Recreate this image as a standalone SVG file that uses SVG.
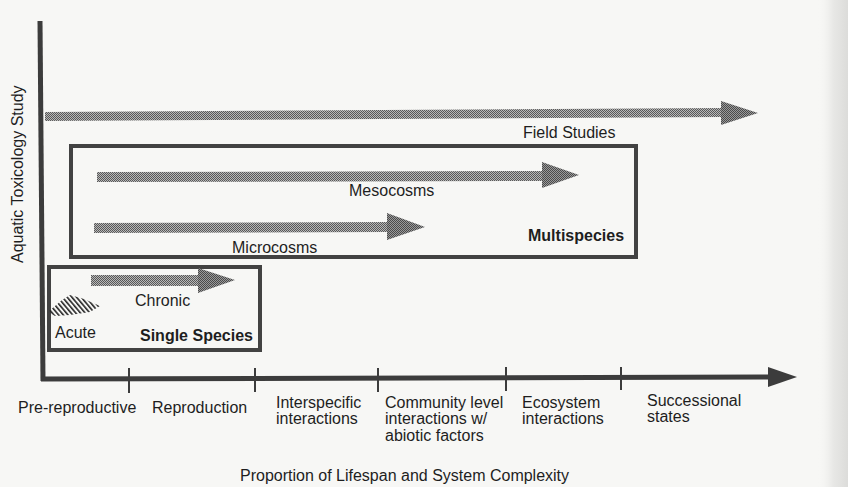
<svg xmlns="http://www.w3.org/2000/svg" width="848" height="487" viewBox="0 0 848 487">
<style>
  text { font-family: "Liberation Sans", Arial, Helvetica, sans-serif; font-size: 16px; fill: #1e1e1e; }
  .b { font-weight: bold; }
  .axis { stroke: #3c3c3c; stroke-width: 5; fill: none; }
  .tick { stroke: #3c3c3c; stroke-width: 2; }
  .box { stroke: #424242; stroke-width: 4; fill: none; }
  .bar { fill: url(#dither); }
  .head { fill: url(#ditherDark); }
</style>
<defs>
  <pattern id="dither" width="2" height="2" patternUnits="userSpaceOnUse">
    <rect width="2" height="2" fill="#b8b8b8"/>
    <rect width="1" height="1" fill="#585858"/>
    <rect x="1" y="1" width="1" height="1" fill="#585858"/>
  </pattern>
  <pattern id="ditherDark" width="2" height="2" patternUnits="userSpaceOnUse">
    <rect width="2" height="2" fill="#9a9a9a"/>
    <rect width="1" height="1" fill="#4a4a4a"/>
    <rect x="1" y="1" width="1" height="1" fill="#4a4a4a"/>
  </pattern>
  <pattern id="hatch" width="3.6" height="3.6" patternUnits="userSpaceOnUse" patternTransform="rotate(-40)">
    <line x1="0.8" y1="0" x2="0.8" y2="3.6" stroke="#262626" stroke-width="1.6"/>
  </pattern>
  <linearGradient id="edge" x1="0" y1="0" x2="1" y2="0">
    <stop offset="0" stop-color="#f6f6f4" stop-opacity="0"/>
    <stop offset="0.5" stop-color="#e8e8e6"/>
    <stop offset="1" stop-color="#dcdcda"/>
  </linearGradient>
</defs>

<rect width="848" height="487" fill="#f7f7f5"/>
<rect x="818" y="0" width="30" height="487" fill="url(#edge)"/>

<g id="axis-y-label">
  <text transform="translate(23,263) rotate(-90)">Aquatic Toxicology Study</text>
</g>

<g id="connectors">
  <line class="axis" x1="40" y1="21" x2="43" y2="381"/>
  <line class="axis" x1="41" y1="379" x2="770" y2="377"/>
  <polygon points="768,367 797,377 768,387" fill="#3c3c3c"/>
  <line class="tick" x1="129" y1="368" x2="129" y2="393"/>
  <line class="tick" x1="255" y1="368" x2="255" y2="392"/>
  <line class="tick" x1="378" y1="368" x2="378" y2="392"/>
  <line class="tick" x1="506" y1="367" x2="506" y2="391"/>
  <line class="tick" x1="621" y1="367" x2="621" y2="390"/>
</g>

<g id="field-studies">
  <polygon class="bar" points="45,112 723,108 723,117 45,121"/>
  <polygon class="head" points="721,101 758,113 721,125"/>
  <text x="523" y="138">Field Studies</text>
</g>

<g id="multispecies">
  <rect class="box" x="71" y="146" width="565" height="111"/>
  <text class="b" x="528" y="241">Multispecies</text>
</g>

<g id="mesocosms">
  <polygon class="bar" points="97,172 543,171 543,181 97,182"/>
  <polygon class="head" points="542,162 579,175 542,188"/>
  <text x="349" y="196">Mesocosms</text>
</g>

<g id="microcosms">
  <polygon class="bar" points="94,223 388,222 388,232 94,233"/>
  <polygon class="head" points="387,213 425,227 387,240"/>
  <text x="232" y="253">Microcosms</text>
</g>

<g id="single-species">
  <rect class="box" x="49" y="267" width="211" height="83"/>
  <text class="b" x="140" y="341">Single Species</text>
</g>

<g id="chronic">
  <rect class="bar" x="91" y="275" width="108" height="11"/>
  <polygon class="head" points="198,268 235,280 198,293"/>
  <text x="135" y="306">Chronic</text>
</g>

<g id="acute">
  <polygon fill="url(#hatch)" points="48,312 62,300 70,295 84,299 100,306 90,312 70,315 55,316"/>
  <text x="55" y="338">Acute</text>
</g>

<g id="x-labels">
  <text x="18" y="413">Pre-reproductive</text>
  <text x="152" y="413">Reproduction</text>
  <text x="276" y="408">Interspecific</text>
  <text x="276" y="424">interactions</text>
  <text x="385" y="408">Community level</text>
  <text x="385" y="424">interactions w/</text>
  <text x="385" y="441">abiotic factors</text>
  <text x="522" y="408">Ecosystem</text>
  <text x="522" y="424">interactions</text>
  <text x="647" y="406">Successional</text>
  <text x="647" y="422">states</text>
  <text x="240" y="481">Proportion of Lifespan and System Complexity</text>
</g>
</svg>
